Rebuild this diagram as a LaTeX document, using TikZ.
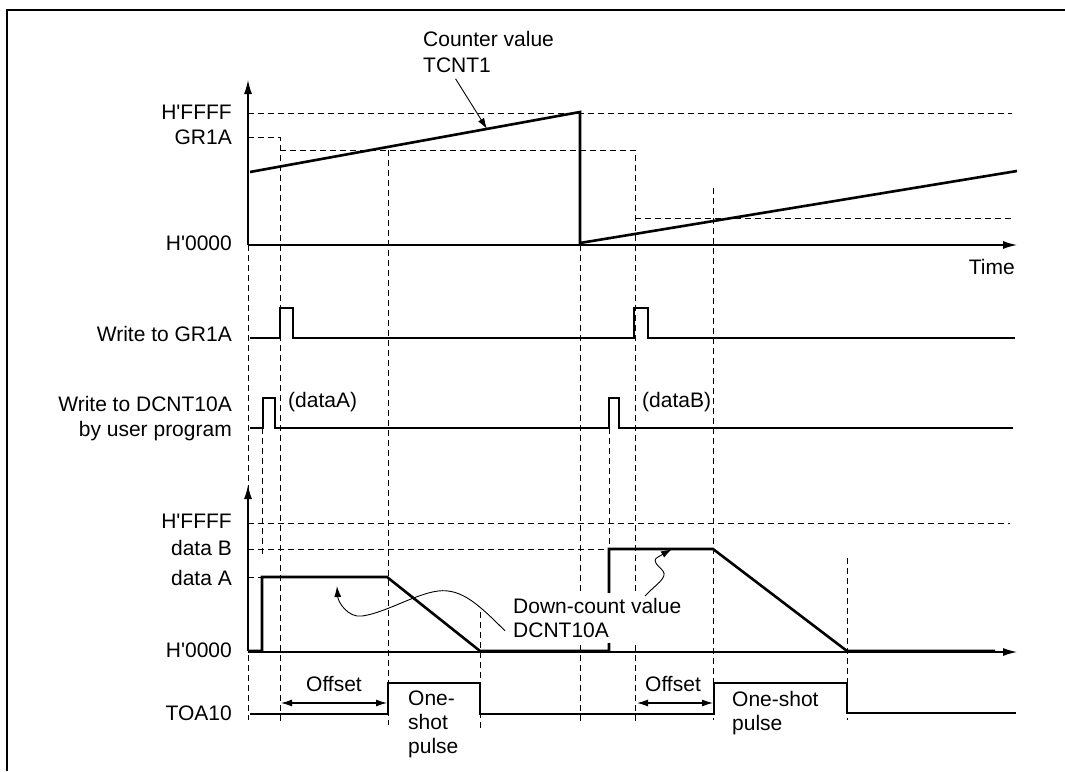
\documentclass[tikz,border=0pt]{standalone}
\usepackage{fontspec}
\setmainfont{Liberation Sans}
\newfontfamily\plainfont{Liberation Sans}
\usetikzlibrary{arrows.meta, positioning}
\newcommand{\hq}{{\plainfont H'}}

\begin{document}
\begin{tikzpicture}[x=1pt, y=-1pt, >={Latex[length=14pt,width=8pt]},
		sig/.style={line width=2.6pt, line join=miter},
		grid/.style={line width=1pt, dash pattern=on 6pt off 4pt},
		axis/.style={line width=1.3pt, ->},
		callout/.style={line width=0.9pt, ->, >={Latex[length=11pt,width=7pt]}},
		lbl/.style={anchor=east, font=\fontsize{21}{25}\selectfont, align=right, inner sep=0pt},
		txt/.style={font=\fontsize{21}{24}\selectfont, align=left, inner sep=0pt}]
		
		\useasboundingbox (0,0) rectangle (1065,771);
		\draw[line width=2.5pt] (7,771) -- (7,10) -- (1065,10);
		
		% 1. 辅助虚线
		\draw[grid] (248,113) -- (1012,113);
		\draw[grid] (248,137) -- (280,137) -- (280,723);
		\draw[grid] (280,150) -- (635,150) -- (635,723);
		\draw[grid] (388,150) -- (388,725);
		\draw[grid] (635,218) -- (1012,218);
		\draw[grid] (713,188) -- (713,720);
		\draw[grid] (580,245) -- (580,723);
		\draw[grid] (248,245) -- (248,720);
		\draw[grid] (262,428) -- (262,557);
		\draw[grid] (609,428) -- (609,549);
		\draw[grid] (480,612) -- (480,728);
		\draw[grid] (847,558) -- (847,720);
		\draw[grid] (248,523) -- (1010,523);
		\draw[grid] (248,549) -- (609,549);
		\draw[grid] (248,577) -- (262,577);
		
		% 2. 坐标轴
		\draw[axis] (248,245) -- (248,80);
		\draw[axis] (248,245) -- (1017,245);
		\draw[axis] (248,651) -- (248,485);
		\draw[axis] (248,652) -- (1017,652);
		
		% 3. 计数器 TCNT1
		\draw[sig] (250,172) -- (580,112) -- (580,243) -- (1017,171);
		\coordinate (Tc) at (487,129);
		
		% 4. 写入脉冲
		\draw[sig] (250,338) -- (280,338) -- (280,308) -- (293,308) -- (293,338) -- (634,338)
		-- (634,308) -- (648,308) -- (648,338) -- (1015,338);
		\draw[sig] (250,428) -- (263,428) -- (263,398) -- (275,398) -- (275,428) -- (609,428)
		-- (609,398) -- (619,398) -- (619,428) -- (1013,428);
		
		% 5. 递减计数 DCNT10A
		\draw[sig] (248,651) -- (262,651) -- (262,577) -- (387,577) -- (480,651) -- (609,651)
		-- (609,549) -- (713,549) -- (847,651) -- (995,651);
		\coordinate (Da) at (337,586);
		\coordinate (Db) at (672,549);
		
		% 6. 输出 TOA10
		\draw[sig] (250,714) -- (388,714) -- (388,683) -- (480,683) -- (480,714) -- (714,714)
		-- (714,683) -- (847,683) -- (847,713) -- (1016,713);
		
		% 7. Offset 箭头
		\coordinate (O1a) at (281,703);
		\coordinate (O1b) at (387,703);
		\coordinate (O2a) at (637,703);
		\coordinate (O2b) at (713,703);
		\draw[<->, line width=1.2pt, >={Latex[length=11pt,width=7pt]}] (O1a) -- (O1b);
		\draw[<->, line width=1.2pt, >={Latex[length=11pt,width=7pt]}] (O2a) -- (O2b);
		
		% 8. 左侧标签
		\node[lbl] (ffffA) at (232,112) {\hq FFFF};
		\node[lbl] (gra) at (232,137) {GR1A};
		\node[lbl] (zeroA) at (232,243) {\hq 0000};
		\node[lbl] (wgr) at (232,334) {Write to GR1A};
		\node[lbl, anchor=north east] (wdc) at (232,396) {Write to DCNT10A\\by user program};
		\node[lbl] (ffffB) at (232,521) {\hq FFFF};
		\node[lbl] (datb) at (232,548) {data B};
		\node[lbl] (data) at (232,578) {data A};
		\node[lbl] (zeroB) at (232,650) {\hq 0000};
		\node[lbl] (toa) at (232,713) {TOA10};
		
		% 9. 其他文字
		\node[lbl] (time) at (1015,267) {Time};
		\node[txt, anchor=north west, font=\fontsize{21}{26}\selectfont] (cnt) at (423,31) {Counter value\\TCNT1};
		\node[txt, anchor=west] (dA) at (288,402) {(dataA)};
		\node[txt, anchor=west] (dB) at (642,402) {(dataB)};
		\node[txt] (off1) at (334,684) {Offset};
		\node[txt] (off2) at (673,684) {Offset};
		\node[txt, anchor=north west] (osp1) at (408,691) {One-\\shot\\pulse};
		\node[txt, anchor=north west] (osp2) at (732,691) {One-shot\\pulse};
		\node[txt, anchor=north west, fill=white, inner ysep=5pt] (dcnt) at (513,593) {Down-count value\\DCNT10A};
		
		% 10. 引出线
		\draw[callout] ([shift={(-33pt,-6pt)}]cnt.south) -- (Tc);
		\draw[callout] ([shift={(-8pt,12pt)}]dcnt.south west) .. controls (480,606) and (462,588) .. (438,591)
		.. controls (415,594) and (385,613) .. (362,616) .. controls (348,618) and (338,602) .. (Da);
		\draw[callout] ([shift={(132pt,-3pt)}]dcnt.north west) .. controls (655,585) and (668,578) .. (663,571)
		.. controls (658,565) and (651,561) .. (658,557) -- (Db);
		
	\end{tikzpicture}
\end{document}
